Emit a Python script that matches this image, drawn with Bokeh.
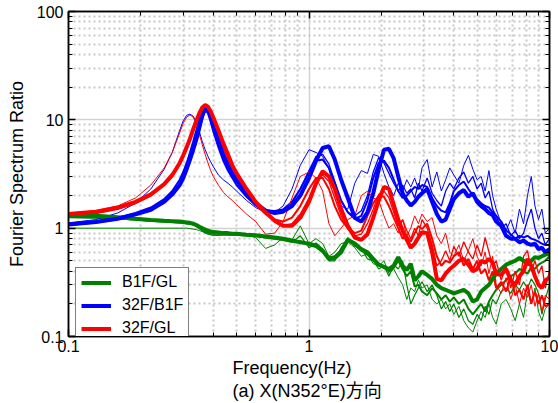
from bokeh.plotting import figure
from bokeh.models import (LogAxis, FixedTicker, CustomJSTickFormatter, Legend,
                          LegendItem, Title)
from bokeh.embed import file_html
from bokeh.resources import INLINE

# Frequency axis (Hz) shared by all spectral-ratio curves
FREQ = [0.10, 0.13, 0.16, 0.19, 0.22, 0.25, 0.27, 0.29, 0.30, 0.31, 0.32, 0.33,
        0.34, 0.35, 0.36, 0.37, 0.38, 0.39, 0.40, 0.42, 0.44, 0.46, 0.48, 0.50,
        0.55, 0.60, 0.66, 0.72, 0.78, 0.85, 0.92, 1.00, 1.07, 1.14, 1.21, 1.28,
        1.36, 1.45, 1.55, 1.65, 1.75, 1.85, 1.95,
        2.05, 2.15, 2.25, 2.35, 2.45, 2.55, 2.65, 2.75, 2.85, 2.95, 3.1, 3.25,
        3.4, 3.55, 3.7, 3.85, 4.0, 4.2, 4.4, 4.6, 4.8, 5.0, 5.2, 5.4, 5.6, 5.8,
        6.0, 6.3, 6.6, 6.9, 7.2, 7.5, 7.8, 8.1, 8.4, 8.7, 9.0, 9.3, 9.6, 10.0]

# B1F/GL ratios
G_THICK = [1.32, 1.30, 1.26, 1.22, 1.19, 1.17, 1.16, 1.15, 1.14, 1.13, 1.12, 1.10,
           1.07, 1.03, 1.00, 0.97, 0.95, 0.93, 0.92, 0.91, 0.90, 0.90, 0.89, 0.89,
           0.87, 0.86, 0.84, 0.82, 0.80, 0.77, 0.74, 0.72, 0.69, 0.62, 0.52, 0.53,
           0.60, 0.78, 0.72, 0.64, 0.60, 0.52, 0.46,
           0.44, 0.42, 0.45, 0.54, 0.45, 0.41, 0.47, 0.33, 0.36, 0.40, 0.37, 0.34,
           0.30, 0.28, 0.27, 0.26, 0.25, 0.26, 0.27, 0.25, 0.21, 0.22, 0.26, 0.28,
           0.30, 0.34, 0.38, 0.42, 0.46, 0.48, 0.50, 0.53, 0.50, 0.46, 0.50, 0.54,
           0.53, 0.55, 0.57, 0.58]
G_MID = [1.27, 1.26, 1.23, 1.20, 1.17, 1.15, 1.14, 1.13, 1.12, 1.11, 1.10, 1.08,
         1.05, 1.00, 0.96, 0.93, 0.91, 0.90, 0.89, 0.89, 0.89, 0.88, 0.88, 0.88,
         0.87, 0.85, 0.83, 0.81, 0.79, 0.76, 0.76, 0.70, 0.67, 0.60, 0.54, 0.55,
         0.63, 0.80, 0.70, 0.62, 0.57, 0.50, 0.47,
         0.43, 0.40, 0.43, 0.50, 0.42, 0.36, 0.40, 0.29, 0.30, 0.26, 0.24, 0.28,
         0.25, 0.22, 0.24, 0.21, 0.23, 0.20, 0.22, 0.18, 0.16, 0.18, 0.20, 0.17,
         0.21, 0.24, 0.27, 0.30, 0.33, 0.36, 0.38, 0.42, 0.40, 0.38, 0.44, 0.42,
         0.46, 0.48, 0.50, 0.55]
G_THIN_A = [1.00, 1.00, 1.00, 1.00, 1.00, 1.00, 1.00, 1.00, 1.00, 1.00, 0.99, 0.98,
            0.97, 0.95, 0.93, 0.90, 0.88, 0.87, 0.86, 0.86, 0.87, 0.87, 0.87, 0.87,
            0.86, 0.82, 0.65, 0.70, 0.82, 0.78, 1.05, 0.72, 0.80, 0.72, 0.55, 0.60,
            0.72, 0.75, 0.66, 0.55, 0.58, 0.47, 0.45,
            0.50, 0.38, 0.42, 0.35, 0.30, 0.22, 0.28, 0.26, 0.33, 0.28, 0.30, 0.22,
            0.20, 0.22, 0.18, 0.20, 0.16, 0.19, 0.14, 0.12, 0.11, 0.14, 0.17, 0.15,
            0.20, 0.15, 0.13, 0.20, 0.22, 0.18, 0.14, 0.20, 0.15, 0.26, 0.20, 0.28,
            0.17, 0.14, 0.18, 0.20]
G_THIN_B = [1.25, 1.24, 1.22, 1.19, 1.16, 1.14, 1.13, 1.12, 1.11, 1.10, 1.09, 1.07,
            1.04, 1.00, 0.95, 0.91, 0.89, 0.87, 0.86, 0.86, 0.86, 0.86, 0.86, 0.86,
            0.85, 0.84, 0.81, 0.79, 0.77, 0.74, 0.85, 0.66, 0.73, 0.64, 0.50, 0.50,
            0.66, 0.82, 0.68, 0.66, 0.52, 0.50, 0.42,
            0.45, 0.36, 0.46, 0.42, 0.50, 0.30, 0.20, 0.24, 0.28, 0.32, 0.26, 0.30,
            0.24, 0.18, 0.21, 0.17, 0.20, 0.15, 0.18, 0.14, 0.13, 0.16, 0.14, 0.19,
            0.16, 0.22, 0.20, 0.26, 0.28, 0.25, 0.30, 0.27, 0.32, 0.28, 0.34, 0.30,
            0.25, 0.16, 0.22, 0.30]

# 32F/B1F ratios
B_THICK = [1.08, 1.14, 1.22, 1.34, 1.48, 1.75, 2.05, 2.5, 2.9, 3.5, 4.3, 5.3,
           6.6, 8.5, 11.0, 13.0, 12.6, 10.8, 9.0, 6.4, 4.7, 3.8, 3.2, 2.75,
           2.1, 1.7, 1.45, 1.38, 1.42, 1.6, 2.0, 2.9, 4.2, 5.5, 5.7, 4.3,
           2.8, 1.9, 1.25, 1.15, 1.4, 2.1, 3.5,
           5.3, 5.4, 4.4, 3.0, 2.1, 1.8, 1.62, 1.75, 1.95, 2.1, 2.3, 1.75,
           1.35, 1.15, 1.2, 1.5, 1.85, 2.1, 2.25, 1.95, 2.1, 1.75, 1.6, 1.5,
           1.38, 1.32, 1.15, 1.05, 0.85, 0.80, 0.80, 0.74, 0.77, 0.72, 0.70, 0.72,
           0.64, 0.66, 0.60, 0.64]
B_MID = [1.10, 1.16, 1.25, 1.38, 1.55, 1.85, 2.2, 2.8, 3.3, 4.0, 5.0, 6.3,
         8.0, 10.2, 12.2, 12.6, 11.5, 9.6, 7.8, 5.6, 4.2, 3.4, 2.9, 2.5,
         1.95, 1.62, 1.43, 1.40, 1.48, 1.75, 2.3, 3.3, 4.2, 4.3, 3.6, 2.6,
         1.8, 1.4, 1.22, 1.3, 1.8, 2.9, 4.0,
         4.2, 3.6, 2.8, 2.2, 1.9, 2.0, 2.2, 2.4, 2.3, 2.5, 2.4, 1.9,
         1.6, 1.45, 1.4, 1.7, 2.2, 2.5, 2.7, 2.3, 2.0, 1.85, 1.7, 1.6,
         1.55, 1.4, 1.3, 1.15, 0.95, 0.88, 0.80, 0.85, 0.82, 0.85, 0.80, 0.78,
         0.75, 0.72, 0.70, 0.70]
B_THIN_A = [1.12, 1.20, 1.38, 1.70, 2.3, 3.5, 5.0, 8.0, 9.8, 11.0, 11.3, 10.8,
            9.5, 7.8, 6.3, 5.3, 4.6, 4.1, 3.7, 3.1, 2.8, 2.6, 2.4, 2.2,
            1.8, 1.55, 1.4, 1.4, 1.6, 2.3, 3.8, 5.3, 5.0, 4.6, 3.5, 2.2,
            1.6, 1.5, 2.6, 3.4, 3.2, 4.8, 4.6,
            3.2, 2.4, 2.0, 2.6, 2.2, 2.8, 2.4, 2.9, 2.3, 3.6, 4.3, 2.4,
            3.3, 2.2, 2.8, 3.6, 3.1, 2.6, 3.8, 4.7, 3.5, 2.8, 3.0, 2.2,
            3.4, 2.0, 1.5, 1.1, 0.95, 1.2, 0.9, 1.5, 1.1, 2.0, 3.0, 1.6,
            1.2, 1.5, 0.9, 1.0]
B_THIN_B = [1.06, 1.12, 1.20, 1.32, 1.47, 1.72, 2.0, 2.45, 2.85, 3.4, 4.1, 5.0,
            6.2, 7.9, 10.0, 11.8, 12.0, 10.5, 8.8, 6.3, 4.6, 3.7, 3.1, 2.7,
            2.05, 1.65, 1.47, 1.45, 1.5, 1.72, 2.3, 3.4, 4.6, 4.8, 3.9, 2.7,
            1.8, 1.4, 1.3, 1.45, 2.0, 3.3, 4.5,
            4.0, 3.2, 2.6, 2.2, 2.5, 2.1, 2.3, 1.9, 2.6, 2.2, 2.9, 2.1,
            1.8, 1.6, 2.2, 2.6, 2.3, 2.9, 3.3, 2.6, 3.0, 2.3, 2.6, 1.9,
            2.2, 1.5, 1.3, 1.0, 1.1, 0.85, 0.95, 0.8, 0.9, 1.2, 1.5, 1.0,
            0.8, 0.9, 0.7, 0.8]

# 32F/GL ratios
R_THICK = [1.35, 1.42, 1.55, 1.75, 2.05, 2.55, 3.1, 4.0, 4.7, 5.6, 6.7, 8.2,
           9.8, 11.5, 13.0, 13.7, 13.2, 12.0, 10.5, 8.0, 6.1, 4.8, 3.8, 3.2,
           2.3, 1.75, 1.4, 1.17, 1.05, 1.05, 1.25, 1.75, 2.6, 3.35, 3.0, 2.3,
           1.5, 1.05, 0.82, 0.78, 0.88, 1.25, 1.8,
           2.4, 2.3, 1.65, 1.2, 0.95, 0.78, 0.66, 0.72, 0.82, 0.92, 0.90, 0.60,
           0.34, 0.33, 0.38, 0.42, 0.45, 0.50, 0.52, 0.46, 0.40, 0.42, 0.50, 0.48,
           0.52, 0.48, 0.38, 0.37, 0.42, 0.33, 0.30, 0.36, 0.40, 0.52, 0.45, 0.36,
           0.30, 0.28, 0.33, 0.35]
R_MID = [1.30, 1.37, 1.50, 1.70, 2.0, 2.5, 3.0, 3.9, 4.6, 5.4, 6.5, 7.9,
         9.5, 11.2, 12.6, 13.1, 12.5, 11.2, 9.8, 7.3, 5.5, 4.3, 3.5, 2.9,
         2.1, 1.65, 1.35, 1.2, 1.15, 1.25, 1.6, 2.3, 2.9, 2.9, 2.3, 1.6,
         1.2, 1.0, 0.9, 0.95, 1.3, 1.7, 2.0,
         1.95, 1.6, 1.25, 1.0, 0.8, 0.85, 0.75, 0.9, 1.05, 0.98, 1.1, 0.8,
         0.55, 0.45, 0.5, 0.48, 0.55, 0.6, 0.45, 0.52, 0.42, 0.5, 0.38, 0.42,
         0.33, 0.4, 0.28, 0.32, 0.26, 0.36, 0.24, 0.27, 0.22, 0.3, 0.2, 0.26,
         0.2, 0.24, 0.19, 0.2]
R_THIN_A = [1.38, 1.45, 1.60, 1.90, 2.5, 3.6, 5.0, 7.6, 9.3, 10.6, 11.1, 10.6,
            9.2, 7.4, 5.9, 4.8, 4.0, 3.4, 3.0, 2.5, 2.15, 1.95, 1.8, 1.65,
            1.35, 1.15, 0.88, 0.9, 1.15, 1.9, 3.0, 3.3, 2.9, 2.2, 1.1, 0.85,
            1.0, 1.2, 1.3, 2.0, 2.2, 1.9, 1.8,
            1.3, 1.0, 1.1, 0.9, 1.2, 0.85, 1.0, 1.3, 1.1, 1.35, 1.15, 1.25,
            0.85, 0.72, 0.9, 0.6, 0.55, 0.7, 0.5, 0.62, 0.8, 0.55, 0.45, 0.6,
            0.38, 0.55, 0.3, 0.25, 0.35, 0.22, 0.3, 0.2, 0.28, 0.23, 0.3, 0.19,
            0.25, 0.17, 0.24, 0.22]
R_THIN_B = [1.33, 1.40, 1.52, 1.72, 2.02, 2.5, 3.05, 3.95, 4.65, 5.5, 6.6, 8.0,
            9.6, 11.3, 12.8, 13.4, 12.9, 11.6, 10.1, 7.6, 5.8, 4.5, 3.6, 3.0,
            2.2, 1.7, 1.38, 1.15, 1.05, 1.1, 1.35, 1.9, 2.7, 3.1, 2.7, 1.9,
            1.3, 0.98, 0.85, 0.88, 1.1, 1.5, 2.05,
            2.2, 1.9, 1.4, 1.05, 1.2, 0.95, 0.8, 1.0, 0.85, 1.2, 1.0, 0.7,
            0.45, 0.5, 0.62, 0.5, 0.68, 0.55, 0.75, 0.6, 0.52, 0.7, 0.55, 0.82,
            0.6, 0.45, 0.5, 0.33, 0.45, 0.28, 0.4, 0.3, 0.55, 0.62, 0.4, 0.5,
            0.38, 0.45, 0.28, 0.4]

X_TICKS = [0.1, 1, 10]
X_MINOR = [0.2, 0.3, 0.4, 0.5, 0.6, 0.7, 0.8, 0.9, 2, 3, 4, 5, 6, 7, 8, 9]
Y_TICKS = [0.1, 1, 10, 100]
Y_MINOR = X_MINOR + [20, 30, 40, 50, 60, 70, 80, 90]

GREEN, BLUE, RED = "#008000", "#0000ff", "#ff0000"
FONT = "Liberation Sans, Arial, Noto Sans CJK JP"

p = figure(width=558, height=403, x_axis_type="log", y_axis_type="log",
           x_range=(0.1, 10), y_range=(0.1, 100),
           output_backend="svg", toolbar_location=None,
           min_border_left=68, min_border_right=9, min_border_top=11,
           min_border_bottom=67)
p.outline_line_color = "black"
p.outline_line_width = 1.5
p.background_fill_color = "white"
p.border_fill_color = "white"

xt = FixedTicker(ticks=X_TICKS, minor_ticks=X_MINOR)
yt = FixedTicker(ticks=Y_TICKS, minor_ticks=Y_MINOR)
fmt = CustomJSTickFormatter(code="return tick < 1 ? tick.toFixed(1) : tick.toFixed(0);")
blank = CustomJSTickFormatter(code="return '';")

for ax, tk in ((p.xaxis[0], xt), (p.yaxis[0], yt)):
    ax.ticker = tk
    ax.formatter = fmt
    ax.major_label_text_font = FONT
    ax.major_label_text_font_size = "16px"
    ax.major_label_text_color = "black"
    ax.axis_label_text_font = FONT
    ax.axis_label_text_font_size = "18px"
    ax.axis_label_text_font_style = "normal"
    ax.axis_label_text_color = "black"
    ax.major_tick_in = 7
    ax.major_tick_out = 0
    ax.minor_tick_in = 4
    ax.minor_tick_out = 0
    ax.axis_line_width = 1.5
    ax.major_tick_line_width = 1.5

p.yaxis.axis_label = "Fourier Spectrum Ratio"
p.xaxis.major_label_standoff = 3
p.yaxis.major_label_standoff = 5
p.yaxis.axis_label_standoff = 7

# mirror ticks on the top and right edges of the frame
top = LogAxis(ticker=xt, formatter=blank, major_tick_in=7, major_tick_out=0,
              minor_tick_in=4, minor_tick_out=0, major_label_standoff=0,
              axis_line_width=1.5, major_tick_line_width=1.5)
right = LogAxis(ticker=yt, formatter=blank, major_tick_in=7, major_tick_out=0,
                minor_tick_in=4, minor_tick_out=0, major_label_standoff=0,
                axis_line_width=1.5, major_tick_line_width=1.5)
p.add_layout(top, "above")
p.add_layout(right, "right")

for g, tk in ((p.xgrid[0], xt), (p.ygrid[0], yt)):
    g.ticker = tk
    g.grid_line_color = "#d2d2d2"
    g.grid_line_width = 1.5
    g.minor_grid_line_color = "#c8c8c8"
    g.minor_grid_line_width = 2
    g.minor_grid_line_dash = "2 3"

# x-axis title and panel caption, both starting at the same left edge
xlabel = Title(text="Frequency(Hz)", align="left", offset=164, text_font=FONT,
               text_font_size="18px", text_font_style="normal",
               text_color="black", standoff=2)
caption = Title(text="(a) X(N352°E)方向", align="left", offset=164,
                text_font=FONT, text_font_size="18px", text_font_style="normal",
                text_color="black", standoff=0)
p.add_layout(xlabel, "below")
p.add_layout(caption, "below")

series = [
    (G_THIN_A, GREEN, 1.0), (G_THIN_B, GREEN, 1.2), (G_MID, GREEN, 2.0),
    (B_THIN_A, BLUE, 1.0), (B_THIN_B, BLUE, 1.3), (B_MID, BLUE, 2.0),
    (R_THIN_A, RED, 1.0), (R_THIN_B, RED, 1.3), (R_MID, RED, 2.0),
]
for ys, c, w in series:
    p.line(FREQ, ys, line_color=c, line_width=w)

g_main = p.line(FREQ, G_THICK, line_color=GREEN, line_width=4)
b_main = p.line(FREQ, B_THICK, line_color=BLUE, line_width=4)
r_main = p.line(FREQ, R_THICK, line_color=RED, line_width=4)

legend = Legend(items=[LegendItem(label="B1F/GL", renderers=[g_main]),
                       LegendItem(label="32F/B1F", renderers=[b_main]),
                       LegendItem(label="32F/GL", renderers=[r_main])],
                location=(7, -7), border_line_color="black", border_line_width=1,
                background_fill_color="white", background_fill_alpha=1,
                label_text_font=FONT, label_text_font_size="16px",
                label_text_color="black",
                glyph_width=30, glyph_height=17, label_height=17,
                spacing=5, padding=5, margin=0, label_standoff=11)
p.add_layout(legend, "center")

open("out.html", "w").write(file_html(p, INLINE))
